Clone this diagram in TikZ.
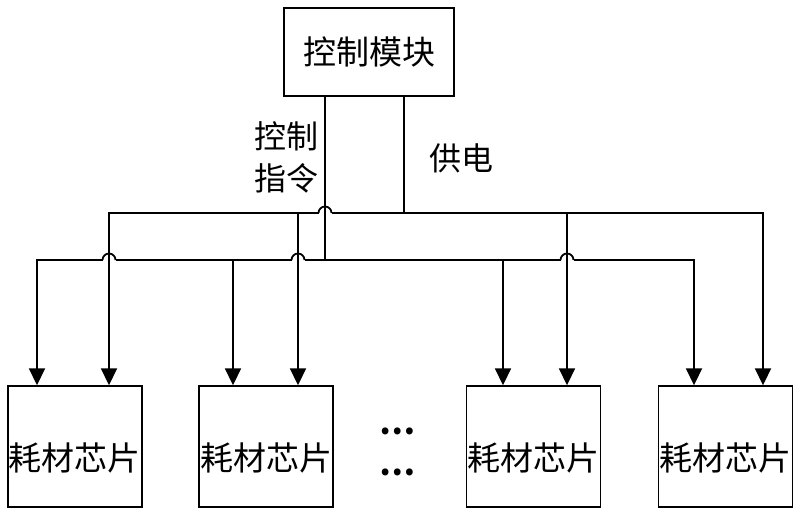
\documentclass[tikz,border=0pt]{standalone}
\usepackage{fontspec}
\newfontfamily\cjk{Noto Sans CJK SC}
\usetikzlibrary{arrows.meta}
\begin{document}
\begin{tikzpicture}[x=1pt,y=-1pt,line width=1.8pt,
  box/.style={draw,line width=1.4pt,inner sep=0pt,font=\cjk\fontsize{33}{40}\selectfont},
  chipbox/.style={box,minimum width=134pt,minimum height=121pt,text height=50pt,text depth=3pt},
  lbl/.style={inner sep=0pt,font=\cjk\fontsize{32}{42}\selectfont,align=center},
  arr/.style={-{Triangle[length=17pt,width=16pt]}},
  hop/.style={start angle=180,end angle=0,radius=6.5pt}]
\useasboundingbox (0,0) rectangle (800,516);
% nodes
\node[box,minimum width=170pt,minimum height=88pt] (ctrl) at (369,52) {控制模块};
\node[chipbox] (c1) at (75,446.5) {耗材芯片};
\node[chipbox] (c2) at (266,446.5) {耗材芯片};
\node[chipbox] (c3) at (533.5,446.5) {耗材芯片};
\node[chipbox] (c4) at (725.5,446.5) {耗材芯片};
\node[lbl] (lctl) at (286,157) {控制\\指令};
\node[lbl] (lpwr) at (461,158) {供电};
\node[lbl] (dots1) at (397,431) {\textbf{…}};
\node[lbl] (dots2) at (397,472) {\textbf{…}};
% bus coordinates
\coordinate (pv) at (404,213);
\coordinate (kv) at (325,260);
\coordinate (p1) at (109,213);
\coordinate (p2) at (298,213);
\coordinate (p3) at (567,213);
\coordinate (p4) at (763,213);
\coordinate (k1) at (37,260);
\coordinate (k2) at (233,260);
\coordinate (k3) at (503,260);
\coordinate (k4) at (694,260);
% power supply
\draw (ctrl.south -| pv) -- (pv);
\draw[arr] ([xshift=-6.5pt]p1 -| kv) -- (p1) -- (p1 |- c1.north);
\draw ([xshift=-6.5pt]p1 -| kv) arc[hop];
\draw[arr] ([xshift=6.5pt]p1 -| kv) -- (p4) -- (p4 |- c4.north);
\draw[arr] (p2) -- (p2 |- c2.north);
\draw[arr] (p3) -- (p3 |- c3.north);
% control
\draw (ctrl.south -| kv) -- (kv);
\draw[arr] ([xshift=-6.5pt]k1 -| p1) -- (k1) -- (k1 |- c1.north);
\draw ([xshift=-6.5pt]k1 -| p1) arc[hop];
\draw ([xshift=6.5pt]k1 -| p1) -- ([xshift=-6.5pt]k1 -| p2);
\draw ([xshift=-6.5pt]k1 -| p2) arc[hop];
\draw ([xshift=6.5pt]k1 -| p2) -- ([xshift=-6.5pt]k1 -| p3);
\draw ([xshift=-6.5pt]k1 -| p3) arc[hop];
\draw[arr] ([xshift=6.5pt]k1 -| p3) -- (k4) -- (k4 |- c4.north);
\draw[arr] (k2) -- (k2 |- c2.north);
\draw[arr] (k3) -- (k3 |- c3.north);
\end{tikzpicture}
\end{document}
